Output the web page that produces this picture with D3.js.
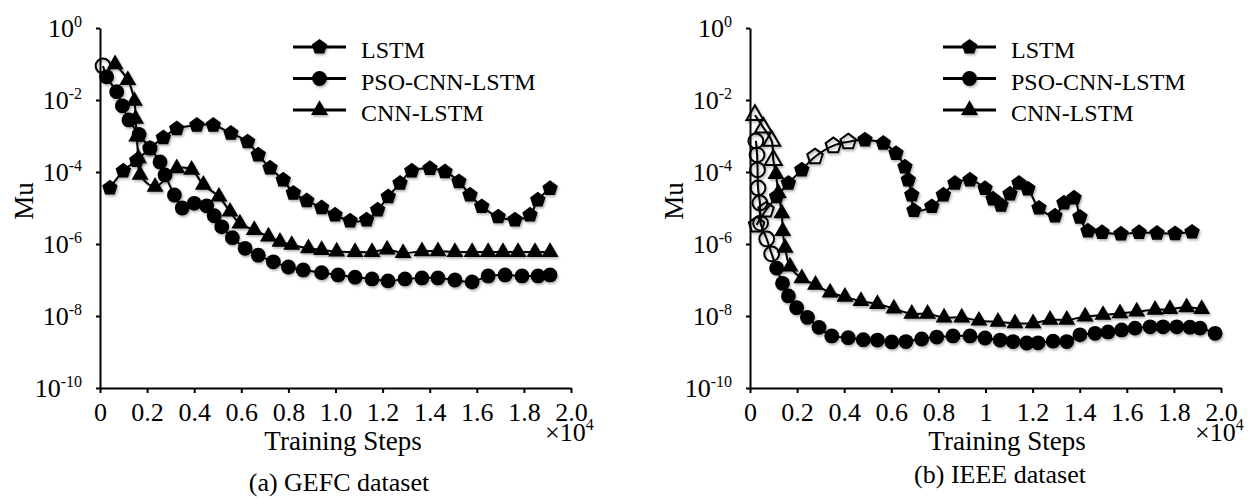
<!DOCTYPE html>
<html>
<head>
<meta charset="utf-8">
<script src="https://cdn.jsdelivr.net/npm/d3@7"></script>
<style>
body { margin: 0; background: #fff; }
</style>
</head>
<body>
<svg id="chart" width="1255" height="499"></svg>
<script>

// (a) GEFC dataset
var stepsLstmA = [0.042,0.099,0.156,0.212,0.269,0.326,0.411,0.481,0.556,0.627,0.672,0.722,0.778,0.821,0.878,0.941,0.998,1.062,1.132,1.179,1.224,1.274,1.324,1.401,1.465,1.524,1.571,1.621,1.691,1.762,1.826,1.859,1.911]
var muLstmA = [3.6e-5,1.07e-4,2.1e-4,4.6e-4,9e-4,1.6e-3,2.0e-3,2.0e-3,1.2e-3,6.9e-4,3.0e-4,1.3e-4,6.0e-5,2.6e-5,1.6e-5,1.02e-5,6.4e-6,4.4e-6,4.7e-6,8.8e-6,2.06e-5,4.9e-5,1.07e-4,1.26e-4,1.02e-4,5.4e-5,2.3e-5,1.1e-5,5.7e-6,4.7e-6,6.4e-6,1.67e-5,3.5e-5]

var stepsPsoA = [0.013,0.028,0.071,0.095,0.123,0.166,0.212,0.255,0.276,0.316,0.349,0.400,0.453,0.485,0.517,0.562,0.616,0.672,0.736,0.800,0.863,0.941,1.011,1.083,1.155,1.223,1.295,1.367,1.435,1.507,1.580,1.648,1.720,1.792,1.860,1.911]
var muPsoA = [8.8e-2,4.4e-2,1.7e-2,6.9e-3,2.8e-3,1.1e-3,4.6e-4,1.9e-4,8.3e-5,2.3e-5,1.0e-5,1.35e-5,1.15e-5,6.1e-6,3.0e-6,1.5e-6,7.6e-7,4.9e-7,3.2e-7,2.3e-7,1.9e-7,1.6e-7,1.38e-7,1.2e-7,1.07e-7,9.4e-8,1.07e-7,1.14e-7,1.14e-7,1.0e-7,8.8e-8,1.3e-7,1.38e-7,1.3e-7,1.3e-7,1.38e-7]

var stepsCnnA = [0.064,0.118,0.146,0.151,0.156,0.163,0.170,0.234,0.326,0.389,0.439,0.505,0.552,0.594,0.655,0.715,0.764,0.814,0.885,0.941,1.005,1.083,1.155,1.219,1.287,1.367,1.435,1.507,1.580,1.648,1.711,1.775,1.847,1.911]
var muCnnA = [9.8e-2,3.6e-2,9.4e-3,3.0e-3,9.6e-4,2.4e-4,8.3e-5,3.9e-5,1.26e-4,1.15e-4,4.4e-5,2.06e-5,7.9e-6,3.7e-6,2.45e-6,1.6e-6,1.15e-6,9.4e-7,7.6e-7,6.8e-7,6.2e-7,6.0e-7,6.0e-7,7.0e-7,5.6e-7,6.3e-7,6.3e-7,6.0e-7,6.0e-7,6.0e-7,6.0e-7,6.0e-7,6.0e-7,6.0e-7]

// (b) IEEE dataset
var stepsLstmB = [0.028,0.068,0.113,0.163,0.220,0.276,0.354,0.417,0.488,0.566,0.620,0.658,0.672,0.687,0.696,0.772,0.821,0.870,0.934,0.998,1.032,1.066,1.104,1.142,1.180,1.227,1.295,1.333,1.376,1.401,1.435,1.495,1.575,1.652,1.728,1.805,1.877]
var muLstmB = [3.4e-6,8.8e-6,2.06e-5,4.9e-5,1.15e-4,2.65e-4,5.4e-4,6.9e-4,7.8e-4,6.3e-4,3.3e-4,1.38e-4,6.0e-5,2.3e-5,8.5e-6,1.1e-5,2.3e-5,4.9e-5,6.0e-5,3.5e-5,1.78e-5,1.2e-5,2.45e-5,4.9e-5,3.4e-5,1.0e-5,6.0e-6,1.38e-5,1.9e-5,5.6e-6,2.3e-6,2.1e-6,1.9e-6,2.1e-6,2.0e-6,1.95e-6,2.15e-6]

var stepsPsoB = [0.025,0.030,0.032,0.034,0.042,0.045,0.071,0.092,0.113,0.138,0.163,0.198,0.244,0.293,0.347,0.417,0.481,0.541,0.602,0.662,0.729,0.793,0.862,0.934,0.998,1.062,1.117,1.175,1.223,1.287,1.345,1.401,1.465,1.520,1.578,1.635,1.699,1.754,1.812,1.868,1.911,1.975]
var muPsoB = [7.3e-4,3.0e-4,1.15e-4,3.6e-5,1.38e-5,3.8e-6,1.38e-6,5.3e-7,2.15e-7,8.1e-8,3.6e-8,1.7e-8,9.1e-9,4.8e-9,2.8e-9,2.5e-9,2.2e-9,2.15e-9,1.9e-9,1.95e-9,2.3e-9,2.6e-9,2.8e-9,2.8e-9,2.45e-9,2.15e-9,1.95e-9,1.78e-9,1.8e-9,2.0e-9,1.95e-9,3.0e-9,3.3e-9,3.6e-9,4.1e-9,4.6e-9,5.0e-9,5.0e-9,5.0e-9,4.9e-9,4.6e-9,3.3e-9]

var stepsCnnB = [0.021,0.057,0.092,0.099,0.110,0.120,0.135,0.139,0.149,0.170,0.220,0.278,0.340,0.403,0.471,0.541,0.611,0.687,0.754,0.824,0.899,0.972,1.053,1.125,1.202,1.274,1.345,1.423,1.499,1.571,1.642,1.720,1.783,1.854,1.918]
var muCnnB = [3.8e-3,1.7e-3,7.3e-4,2.15e-4,8.8e-5,2.6e-5,7.1e-6,2.3e-6,7.8e-7,2.35e-7,1.12e-7,7.3e-8,4.5e-8,3.4e-8,2.6e-8,2.15e-8,1.6e-8,1.15e-8,1.15e-8,9.1e-9,9.1e-9,7.4e-9,6.9e-9,6.3e-9,6.3e-9,7.8e-9,7.8e-9,9.6e-9,1.07e-8,1.18e-8,1.32e-8,1.48e-8,1.55e-8,1.74e-8,1.55e-8]

var seriesNames = ["LSTM", "PSO-CNN-LSTM", "CNN-LSTM"]
var xTickValues = [0,0.2,0.4,0.6,0.8,1.0,1.2,1.4,1.6,1.8,2.0]
var xTickLabelsA = ["0","0.2","0.4","0.6","0.8","1.0","1.2","1.4","1.6","1.8","2.0"]
var xTickLabelsB = ["0","0.2","0.4","0.6","0.8","1","1.2","1.4","1.6","1.8","2.0"]
var yTickValues = [1,1e-2,1e-4,1e-6,1e-8,1e-10]
var yTickExps = ["0","-2","-4","-6","-8","-10"]

// pentagon marker, size = circumradius^2
var symbolPentagon = {
  draw: function(ctx, size) {
    var r = Math.sqrt(size)
    for (var i = 0; i < 5; i++) {
      var a = -Math.PI / 2 + i * 2 * Math.PI / 5
      if (i == 0) ctx.moveTo(r * Math.cos(a), r * Math.sin(a))
      else ctx.lineTo(r * Math.cos(a), r * Math.sin(a))
    }
    ctx.closePath()
  }
}
var markerTypes = [d3.symbol().type(symbolPentagon).size(66),
                   d3.symbol().type(d3.symbolCircle).size(172),
                   d3.symbol().type(d3.symbolTriangle).size(125)]

var svg = d3.select("#chart")
svg.append("rect").attr("width",1255).attr("height",499).attr("fill","#fff")

var shadow = svg.append("defs").append("filter").attr("id","shadow")
  .attr("x","-20%").attr("y","-20%").attr("width","140%").attr("height","140%")
shadow.append("feDropShadow").attr("dx",1.2).attr("dy",1.8).attr("stdDeviation",1.3)
  .attr("flood-color","#000").attr("flood-opacity",0.3)

var panels = [
  {left: 100, xLabels: xTickLabelsA, caption: "(a) GEFC dataset", titleX: 343, captionX: 339, captionY: 491,
   series: [[stepsLstmA, muLstmA], [stepsPsoA, muPsoA], [stepsCnnA, muCnnA]],
   hollow: [[], [0], []]},
  {left: 750, xLabels: xTickLabelsB, caption: "(b) IEEE dataset", titleX: 1007, captionX: 1000, captionY: 483,
   series: [[stepsLstmB, muLstmB], [stepsPsoB, muPsoB], [stepsCnnB, muCnnB]],
   hollow: [[0,1,5,6,7], [0,1,2,3,4,5,6,7], [0,1,2,3]]}
]

panels.forEach(function(p) {
  var x = d3.scaleLinear().domain([0, 2]).range([p.left, p.left + 471])
  var y = d3.scaleLog().domain([1e-10, 1]).range([388, 28])
  var g = svg.append("g")

  // axes
  var yAxis = g.append("g").attr("transform", `translate(${p.left},0)`)
    .call(d3.axisLeft(y).tickValues(yTickValues).tickSize(4).tickSizeOuter(0))
  yAxis.selectAll("path,line").attr("stroke","#000").attr("stroke-width",2)
  yAxis.selectAll(".tick text").each(function(d, i) {
    var t = d3.select(this).text(null).attr("x", -18).attr("font-size", 26).attr("fill", "#000")
    t.append("tspan").text("10")
    t.append("tspan").attr("font-size", 16).attr("dy", -10).text(yTickExps[i])
  })

  var xAxis = g.append("g").attr("transform", "translate(0,388)")
    .call(d3.axisBottom(x).tickValues(xTickValues).tickSize(5).tickSizeOuter(0)
      .tickFormat(function(d, i) { return p.xLabels[i] }))
  xAxis.selectAll("path,line").attr("stroke","#000").attr("stroke-width",2)
  xAxis.selectAll(".tick text").attr("y", 33).attr("dy", 0).attr("font-size", 26).attr("fill", "#000")

  g.append("text").attr("transform", `translate(${p.left - 67},201) rotate(-90)`)
    .attr("text-anchor","middle").attr("font-size",27).text("Mu")
  g.append("text").attr("x", p.titleX).attr("y", 450)
    .attr("text-anchor","middle").attr("font-size",27).text("Training Steps")
  var mult = g.append("text").attr("x", p.left + 445).attr("y", 441).attr("font-size", 26)
  mult.append("tspan").text("\u00d710")
  mult.append("tspan").attr("font-size", 16).attr("dy", -11).text("4")
  g.append("text").attr("x", p.captionX).attr("y", p.captionY)
    .attr("text-anchor","middle").attr("font-size",26).text(p.caption)

  // series
  var line = d3.line().curve(d3.curveCatmullRom.alpha(0.5))
    .x(function(d) { return x(d[0]) }).y(function(d) { return y(d[1]) })
  p.series.forEach(function(s, k) {
    var pts = s[0].map(function(v, i) { return [v, s[1][i]] })
    var sg = g.append("g").attr("filter","url(#shadow)")
    sg.append("path").datum(pts).attr("d", line)
      .attr("fill","none").attr("stroke","#000").attr("stroke-width",2)
    sg.selectAll(".mk").data(pts).enter().append("path")
      .attr("transform", function(d) { return `translate(${x(d[0])},${y(d[1])})` })
      .attr("d", markerTypes[k]())
      .attr("fill", function(d, i) { return p.hollow[k].indexOf(i) >= 0 ? "none" : "#000" })
      .attr("stroke", "#000")
      .attr("stroke-width", function(d, i) { return p.hollow[k].indexOf(i) >= 0 ? 2 : 0 })
  })

  // legend
  var lx = p.left + 193
  seriesNames.forEach(function(name, k) {
    var ly = 47 + k * 31.5
    var lg = g.append("g")
    lg.append("line").attr("x1", lx).attr("x2", lx + 53).attr("y1", ly).attr("y2", ly)
      .attr("stroke","#000").attr("stroke-width",3)
    lg.append("path").attr("transform", `translate(${lx + 26.5},${ly})`).attr("d", markerTypes[k]())
      .attr("fill","#000").attr("filter","url(#shadow)")
    lg.append("text").attr("x", lx + 68).attr("y", ly + 11).attr("font-size", 24).text(name)
  })
})

// serif face for every label
svg.selectAll("text").style("font-family", "Liberation Serif")
</script>
</body>
</html>
